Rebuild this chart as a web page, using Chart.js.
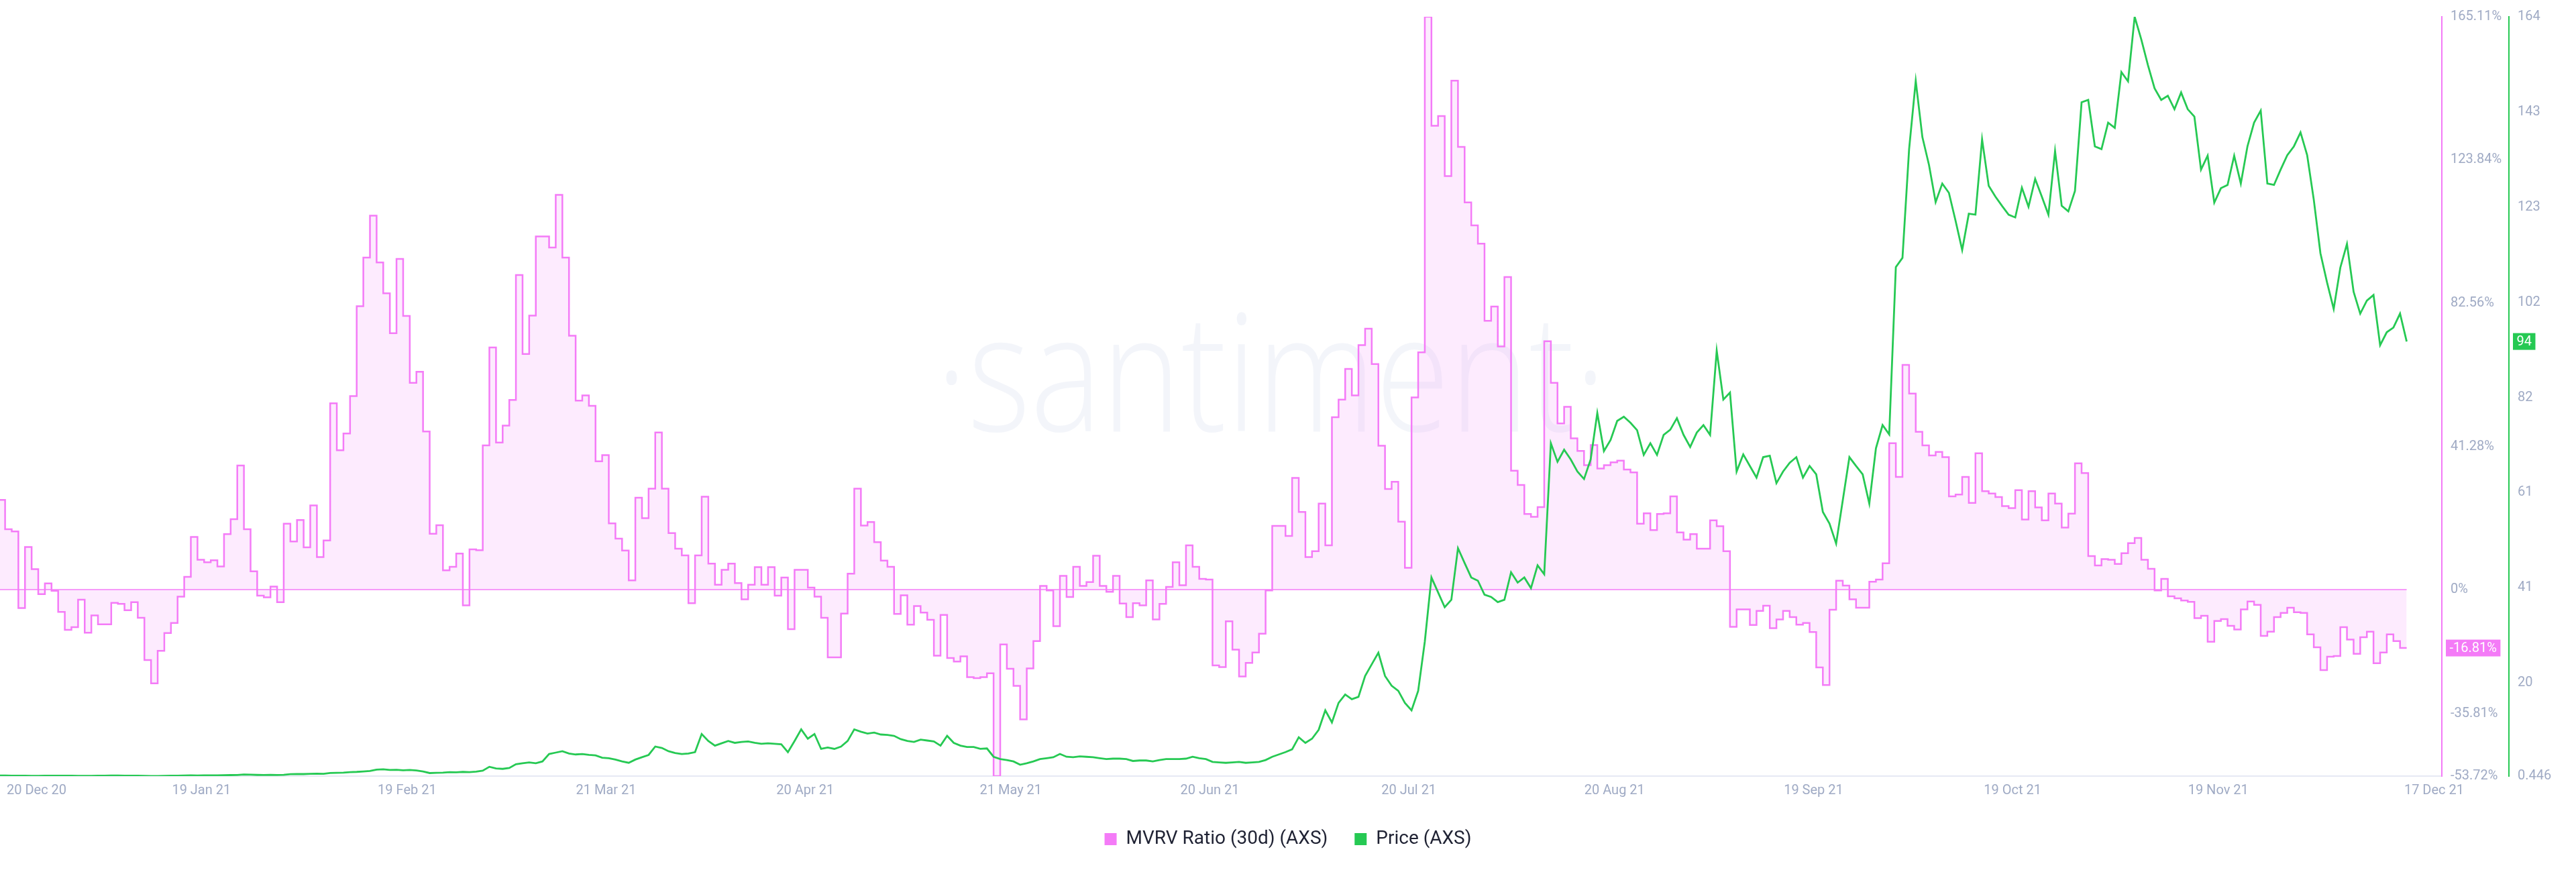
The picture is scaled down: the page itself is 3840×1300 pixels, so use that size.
<!DOCTYPE html>
<html>
<head>
<meta charset="utf-8">
<title>MVRV Ratio (30d) (AXS) vs Price (AXS)</title>
<script src="https://cdn.jsdelivr.net/npm/chart.js@4.4.1/dist/chart.umd.min.js"></script>
<style>
  html, body { margin: 0; padding: 0; background: #ffffff; }
  #wrap { width: 3840px; height: 1300px; }
</style>
</head>
<body>
<div id="wrap"><canvas id="myChart" width="3840" height="1300"></canvas></div>
<script>
// Daily values, index 0 = 20 Dec 2020
const mvrvRatio = [
  25.9, 17.4, 16.8, -5.3, 12.3, 5.9, -1.3, 1.8, -0.3, -6.4,
  -11.6, -10.8, -2.9, -12.4, -7.4, -10, -10, -3.8, -4.1, -5.9,
  -3.6, -8.1, -20.3, -27, -17.6, -12.5, -9.6, -2, 3.7, 15.2,
  8.6, 7.9, 8.5, 6.7, 16, 20.3, 35.8, 17.4, 5.3, -1.7,
  -2.2, 0.9, -3.6, 19, 13.9, 20.1, 12.2, 24.3, 9.4, 14.2,
  53.7, 40.2, 45, 55.8, 81.7, 95.7, 107.8, 94.3, 85.4, 73.9,
  95.3, 78.9, 59.6, 62.8, 45.6, 16.1, 18.6, 5.6, 6.6, 10.4,
  -4.5, 11.6, 11.4, 41.6, 69.8, 42.4, 47.3, 54.7, 90.7, 67.9,
  79, 101.8, 101.8, 98.6, 113.8, 95.7, 73.2, 54.5, 56, 53,
  37, 38.8, 19.1, 14.7, 11.3, 2.7, 26.5, 20.6, 29.1, 45.3,
  29.1, 16.3, 11.8, 9.9, -3.9, 9.9, 26.8, 7.5, 1.4, 5.7,
  7.5, 1.9, -2.8, 1.4, 6.5, 1.4, 6.5, -1.7, 3.5, -11.4,
  5.7, 5.7, 0.6, -2, -8.1, -19.5, -19.5, -6.9, 4.6, 29.1,
  18.5, 19.5, 13.7, 8.4, 6.6, -7, -1.6, -10.1, -4.7, -6.6,
  -8.7, -19, -7.3, -19.7, -20.7, -19.2, -25.2, -25.5, -25.2, -24.1,
  -53.72, -15.8, -22.8, -27.7, -37.4, -22.7, -14.8, 1.1, -0.2, -10.5,
  4, -2.1, 6.6, 1.1, 2.2, 9.8, 1.1, -0.6, 4, -4,
  -7.9, -3.9, -4.5, 2.7, -8.6, -4.1, 0.8, 7.9, 1.3, 12.8,
  6.6, 3.1, 2.9, -21.8, -22.3, -9.1, -17.3, -25, -21.1, -18.1,
  -12.7, -0.2, 18.4, 18.4, 15.5, 32.2, 22.4, 9.4, 11.1, 24.8,
  12.8, 49.7, 54.8, 63.6, 56, 70.5, 75.2, 65, 41.5, 29,
  31.1, 19.6, 6.3, 55.4, 68.4, 165.11, 133.7, 136.5, 119.2, 146.7,
  127.6, 111.6, 105, 99.7, 77.5, 81.6, 70.1, 90.1, 34.3, 30.2,
  21.8, 21, 23.8, 71.6, 59.6, 47.9, 52.7, 43.6, 40, 35.9,
  41.7, 34.9, 35.9, 36.7, 37.2, 34.6, 33.8, 19, 22, 17.2,
  21.8, 22, 26.9, 16.5, 14.4, 16, 11.8, 11.8, 20, 18.3,
  11.1, -10.7, -5.7, -5.7, -10.2, -6.1, -4.6, -11.1, -8.6, -6.1,
  -7.9, -10.1, -9.6, -12.2, -22.4, -27.5, -5.8, 2.6, 1.2, -2.8,
  -5.2, -5.2, 2.3, 2.9, 7.6, 42.2, 32.5, 64.8, 56.5, 45.5,
  41.6, 38.7, 39.7, 38.2, 26.9, 27.4, 32.5, 25, 39.3, 28.4,
  27.7, 26.7, 24.1, 23.5, 28.7, 20.2, 28.4, 23.7, 20, 27.7,
  24.8, 17.9, 21.9, 36.4, 33.6, 9.7, 7, 8.8, 8.6, 7.4,
  10.5, 13.4, 14.9, 8.6, 6, -0.2, 3.1, -1.9, -2.5, -3.1,
  -3.5, -8.2, -7.5, -15, -9, -8.5, -10.4, -11.5, -5.7, -3.4,
  -4.4, -13.3, -12.1, -7.9, -6.7, -5.2, -6.5, -6.7, -12.9, -16.6,
  -23.2, -19.3, -19.1, -10.8, -14.4, -18.5, -13.7, -12.1, -21.2, -18.1,
  -12.9, -14.8, -16.81, -16.81
];

const priceAxs = [
  0.55, 0.56, 0.54, 0.53, 0.52, 0.5, 0.5, 0.52, 0.53, 0.55,
  0.54, 0.52, 0.5, 0.49, 0.5, 0.52, 0.55, 0.57, 0.56, 0.55,
  0.54, 0.53, 0.5, 0.47, 0.446, 0.48, 0.52, 0.55, 0.58, 0.6,
  0.58, 0.6, 0.62, 0.61, 0.63, 0.66, 0.68, 0.78, 0.74, 0.7,
  0.68, 0.7, 0.69, 0.72, 0.85, 0.9, 0.88, 0.92, 0.95, 0.93,
  1.1, 1.15, 1.2, 1.3, 1.35, 1.45, 1.55, 1.85, 1.9, 1.75,
  1.8, 1.7, 1.75, 1.65, 1.45, 1.1, 1.15, 1.2, 1.3, 1.25,
  1.35, 1.3, 1.4, 1.6, 2.45, 2.1, 2, 2.2, 3, 3.2,
  3.4, 3.2, 3.6, 5.2, 5.5, 5.8, 5.3, 5.1, 5.2, 5,
  4.9, 4.4, 4.3, 4, 3.6, 3.3, 4, 4.5, 5, 6.8,
  6.5, 5.8, 5.4, 5.2, 5.3, 5.6, 9.5, 8, 7, 7.5,
  8, 7.6, 7.8, 7.9, 7.6, 7.4, 7.5, 7.4, 7.3, 5.6,
  8, 10.5, 8.5, 9.5, 6.3, 6.6, 6.3, 6.8, 8, 10.5,
  10, 9.6, 9.8, 9.4, 9.3, 9.1, 8.4, 8, 7.8, 8.3,
  8.1, 7.9, 7, 9.1, 7.6, 7, 6.7, 6.7, 6.3, 6.4,
  4.6, 4.1, 3.9, 3.6, 2.9, 3.2, 3.6, 4.1, 4.3, 4.5,
  5.2, 4.6, 4.5, 4.7, 4.6, 4.5, 4.3, 4.1, 4.2, 4.2,
  4.1, 3.7, 3.8, 3.8, 3.6, 3.9, 4.1, 4.1, 4.1, 4.2,
  4.6, 4.3, 4.1, 3.5, 3.4, 3.3, 3.4, 3.5, 3.3, 3.4,
  3.5, 3.9, 4.6, 5.1, 5.6, 6.2, 8.8, 7.6, 8.5, 10.4,
  14.6, 12, 16.2, 18, 17, 17.5, 22, 24.5, 27, 22,
  19.9, 18.8, 16.2, 14.6, 18.8, 29.4, 43.2, 40, 36.8, 38.4,
  49.5, 46.3, 43.2, 42.5, 39.5, 39, 37.9, 38.4, 44.3, 42.1,
  43.2, 40.9, 45.8, 43.9, 72.1, 68.1, 70.7, 68.6, 66, 64.4,
  68.6, 78.6, 70.4, 72.8, 76.9, 77.8, 76.5, 74.9, 69.6, 72.1,
  69.6, 73.9, 75, 77.5, 73.9, 71.3, 74.4, 76, 73.9, 92,
  81.5, 83, 66, 69.7, 67.2, 64.7, 69.1, 69.4, 63.5, 66,
  67.9, 69.1, 64.7, 67.2, 65.4, 57.3, 54.8, 50.5, 59.8, 69.1,
  67.2, 65.4, 59.1, 71, 76, 74, 110, 112, 135.4, 150.1,
  138, 132, 124, 128, 126, 120, 113.7, 121.5, 121.3, 137.5,
  127.5, 125.2, 123.2, 121.3, 120.7, 127.1, 123, 129, 125.2, 121.3,
  135, 123.2, 122, 126.4, 145.5, 146, 136, 135.4, 141.1, 140,
  152, 150, 163.9, 159, 153.5, 148.5, 146, 146.9, 144, 147.6,
  144, 142.4, 131, 134, 123.9, 127, 127.7, 134, 128, 136,
  141.1, 143.7, 128, 127.7, 131, 134.1, 136, 139, 134.1, 124.5,
  113, 106.7, 101, 109.9, 115, 104.7, 100, 102.8, 104, 93.2,
  96, 97, 100, 94
];

// X axis labels: day offsets from 20 Dec 2020
const tickDays = [0, 30, 61, 91, 121, 152, 182, 212, 243, 273, 303, 334, 362];
const tickLabels = ['20 Dec 20', '19 Jan 21', '19 Feb 21', '21 Mar 21', '20 Apr 21', '21 May 21',
  '20 Jun 21', '20 Jul 21', '20 Aug 21', '19 Sep 21', '19 Oct 21', '19 Nov 21', '17 Dec 21'];

const mvrvTicks = [-53.72, -35.81, 0, 41.28, 82.56, 123.84, 165.11];
const mvrvTickLabels = ['-53.72%', '-35.81%', '0%', '41.28%', '82.56%', '123.84%', '165.11%'];
const priceTicks = [0.446, 20.49, 40.97, 61.46, 81.95, 102.44, 122.93, 143.41, 163.9];
const priceTickLabels = ['0.446', '20', '41', '61', '82', '102', '123', '143', '164'];

const PINK = '#f47bf7';
const GREEN = '#26c953';
const TICK_COLOR = '#9faac4';
const FONT = 'Roboto';
const X_MIN = 0.233;
const X_MAX = 368.3;

// marca de agua y linea del 0%
const watermarkPlugin = {
  id: 'watermark',
  beforeDatasetsDraw(chart) {
    const { ctx, chartArea } = chart;
    ctx.save();
    ctx.font = '300 243px "Open Sans"';
    const text = '\u00b7santiment\u00b7';
    const w = ctx.measureText(text).width;
    ctx.translate(chartArea.left + chartArea.width * 0.5205, chartArea.top + 618);
    ctx.scale(1000 / w, 1);
    ctx.fillStyle = 'rgba(215, 221, 238, 0.3)';
    ctx.textAlign = 'center';
    ctx.textBaseline = 'alphabetic';
    ctx.fillText(text, 0, 0);
    ctx.restore();

    const y0 = chart.scales.mvrv.getPixelForValue(0);
    const xEnd = chart.scales.x.getPixelForValue(mvrvRatio.length - 1);
    ctx.save();
    ctx.strokeStyle = PINK;
    ctx.lineWidth = 1.5;
    ctx.beginPath();
    ctx.moveTo(chartArea.left, y0);
    ctx.lineTo(xEnd, y0);
    ctx.stroke();
    ctx.restore();
  }
};

// etiquetas del eje x
const xLabelsPlugin = {
  id: 'xLabels',
  afterDraw(chart) {
    const { ctx, chartArea, scales } = chart;
    ctx.save();
    ctx.font = '20px ' + FONT;
    ctx.fillStyle = TICK_COLOR;
    ctx.textAlign = 'left';
    ctx.textBaseline = 'middle';
    const y = chartArea.bottom + 22;
    tickDays.forEach((d, i) => {
      const text = tickLabels[i];
      const w = ctx.measureText(text).width;
      const last = i === tickDays.length - 1;
      const cx = last ? chartArea.right : scales.x.getPixelForValue(d + 0.6);
      let left = cx - w / 2;
      left = Math.max(left, chartArea.left + 10);
      left = Math.min(left, chartArea.right + 33 - w);
      ctx.fillText(text, left, y);
    });
    ctx.restore();
  }
};

// ultimo valor de cada serie
const lastValuePlugin = {
  id: 'lastValue',
  afterDraw(chart) {
    const { ctx } = chart;
    ctx.save();
    ctx.font = '20px ' + FONT;
    ctx.textBaseline = 'middle';
    ctx.textAlign = 'left';
    chart.data.datasets.forEach(ds => {
      const scale = chart.scales[ds.yAxisID];
      const v = ds.data[ds.data.length - 1].y;
      const text = ds.yAxisID === 'mvrv' ? v.toFixed(2) + '%' : String(Math.round(v));
      const y = scale.getPixelForValue(v);
      const w = ctx.measureText(text).width;
      const x = scale.left + 6;
      ctx.fillStyle = ds.borderColor;
      ctx.fillRect(x, y - 12.5, w + 11, 25);
      ctx.fillStyle = '#ffffff';
      ctx.fillText(text, x + 5.5, y + 1);
    });
    ctx.restore();
  }
};

const ctxChart = document.getElementById('myChart').getContext('2d');

const myChart = new Chart(ctxChart, {
  type: 'line',
  data: {
    datasets: [
      {
        label: 'MVRV Ratio (30d) (AXS)',
        data: mvrvRatio.map((v, i) => ({ x: i, y: v })),
        yAxisID: 'mvrv',
        borderColor: PINK,
        backgroundColor: 'rgba(244, 123, 247, 0.15)',
        borderWidth: 2.5,
        stepped: true,
        fill: { value: 0 },
        pointRadius: 0,
        order: 2
      },
      {
        label: 'Price (AXS)',
        data: priceAxs.map((v, i) => ({ x: i, y: v })),
        yAxisID: 'price',
        borderColor: GREEN,
        backgroundColor: GREEN,
        borderWidth: 2.8,
        fill: false,
        pointRadius: 0,
        tension: 0,
        order: 1
      }
    ]
  },
  options: {
    responsive: false,
    animation: false,
    devicePixelRatio: 1,
    layout: { padding: { top: 14, right: 0, bottom: 25, left: 0 } },
    scales: {
      x: {
        type: 'linear',
        min: X_MIN,
        max: X_MAX,
        ticks: { display: false },
        grid: { display: false, drawTicks: false },
        border: { display: true, color: '#e6e9f4', width: 2 },
        afterFit: s => { s.height = 40; }
      },
      mvrv: {
        type: 'linear',
        position: 'right',
        weight: 0,
        min: mvrvTicks[0],
        max: mvrvTicks[mvrvTicks.length - 1],
        afterBuildTicks: s => { s.ticks = mvrvTicks.map(v => ({ value: v })); },
        afterFit: s => { s.width = 100; },
        grid: { display: false, drawTicks: false },
        border: { display: true, color: PINK, width: 2 },
        ticks: {
          padding: 13,
          color: TICK_COLOR,
          font: { size: 20, family: FONT },
          callback: (v, i) => mvrvTickLabels[i]
        }
      },
      price: {
        type: 'linear',
        position: 'right',
        weight: 1,
        min: priceTicks[0],
        max: priceTicks[priceTicks.length - 1],
        afterBuildTicks: s => { s.ticks = priceTicks.map(v => ({ value: v })); },
        afterFit: s => { s.width = 100; },
        grid: { display: false, drawTicks: false },
        border: { display: true, color: GREEN, width: 2 },
        ticks: {
          padding: 13,
          color: TICK_COLOR,
          font: { size: 20, family: FONT },
          callback: (v, i) => priceTickLabels[i]
        }
      }
    },
    plugins: {
      tooltip: { enabled: false },
      legend: {
        position: 'bottom',
        labels: {
          boxWidth: 18,
          boxHeight: 18,
          padding: 40,
          color: '#1f2233',
          font: { size: 28, family: FONT },
          generateLabels(chart) {
            const items = Chart.defaults.plugins.legend.labels.generateLabels(chart);
            items.forEach(it => { it.fillStyle = it.strokeStyle; it.lineWidth = 0; });
            return items.sort((a, b) => a.datasetIndex - b.datasetIndex);
          }
        }
      }
    }
  },
  plugins: [watermarkPlugin, xLabelsPlugin, lastValuePlugin]
});
</script>
</body>
</html>
